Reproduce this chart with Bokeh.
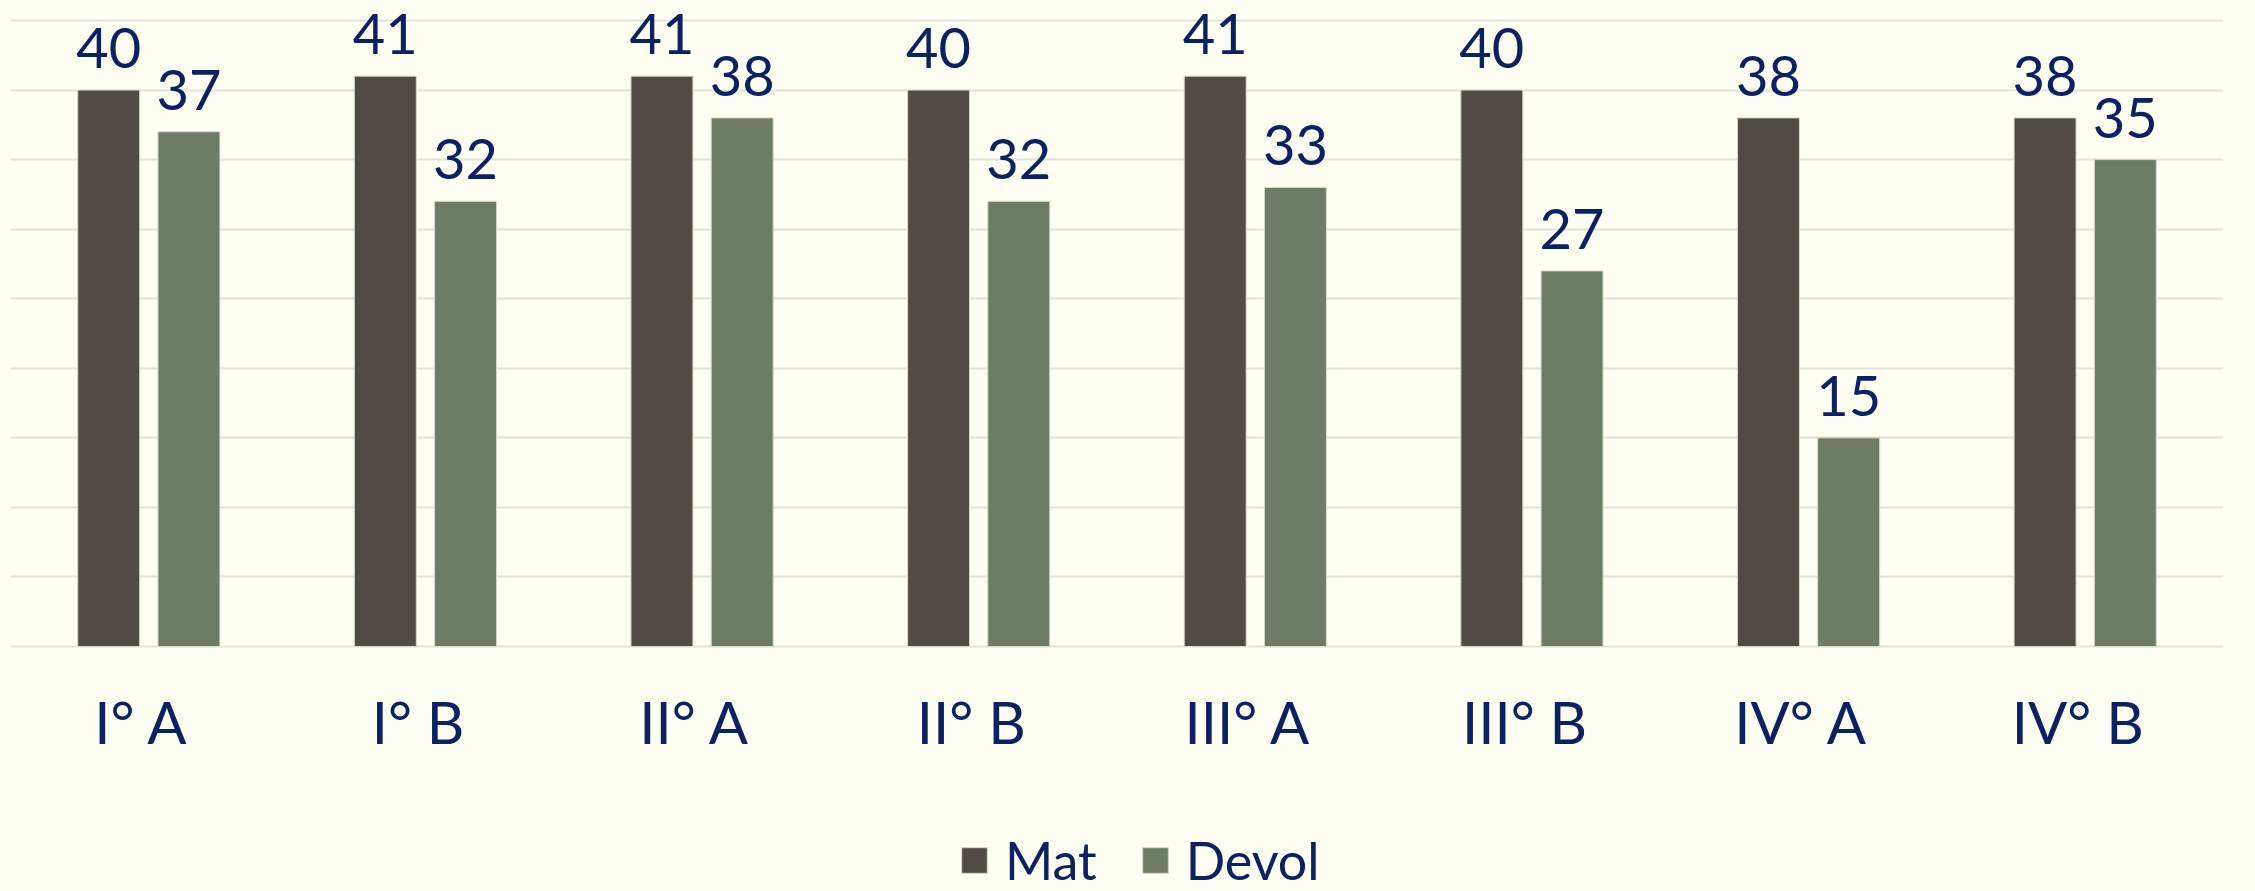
from bokeh.plotting import figure
from bokeh.models import ColumnDataSource, FactorRange, Range1d, LabelSet, Legend, LegendItem, FixedTicker
from bokeh.transform import dodge
from bokeh.embed import file_html
from bokeh.resources import INLINE
from bokeh.core.properties import value

categories = ["I°  A", "I°  B", "II°  A", "II°  B", "III°  A", "III°  B", "IV°  A", "IV°  B"]
mat = [40, 41, 41, 40, 41, 40, 38, 38]
devol = [37, 32, 38, 32, 33, 27, 15, 35]
series = ["Mat", "Devol"]
y_ticks = [0, 5, 10, 15, 20, 25, 30, 35, 40, 45]

BG = "#FEFEF2"
TXT = "#0B2160"
C_MAT = "#524A44"
C_DEV = "#6E7C66"
FONT = "Lato"

W, H = 2255, 891
PX_PER_UNIT = 626 / 45.0
BASE_Y = 646

src = ColumnDataSource(dict(
    cat=categories, mat=mat, devol=devol, zero=[0] * len(categories),
    mat_txt=[str(v) for v in mat], devol_txt=[str(v) for v in devol],
))

p = figure(
    x_range=FactorRange(factors=categories, range_padding=0),
    y_range=Range1d(-(H - BASE_Y) / PX_PER_UNIT, BASE_Y / PX_PER_UNIT),
    width=W, height=H,
    output_backend="svg", toolbar_location=None,
    background_fill_color=BG, border_fill_color=BG,
    min_border_left=10, min_border_right=32, min_border_top=0, min_border_bottom=0,
    outline_line_color=None,
)

r_mat = p.vbar(x=dodge("cat", -0.145, range=p.x_range), top="mat", bottom=0, width=0.224, source=src,
               fill_color=C_MAT, line_color="#D8D8CC", line_width=1)
r_dev = p.vbar(x=dodge("cat", 0.145, range=p.x_range), top="devol", bottom=0, width=0.224, source=src,
               fill_color=C_DEV, line_color="#D8D8CC", line_width=1)

for fld, txt, off in (("mat", "mat_txt", -0.145), ("devol", "devol_txt", 0.145)):
    p.add_layout(LabelSet(x=dodge("cat", off, range=p.x_range), y=fld, text=txt, source=src,
                          y_offset=22, text_align="center", text_baseline="alphabetic",
                          text_font=value(FONT), text_font_size="56px", text_color=TXT))

# category labels under the baseline
p.add_layout(LabelSet(x="cat", y="zero", text="cat", source=src,
                      y_offset=-97, text_align="center", text_baseline="alphabetic",
                      text_font=value(FONT), text_font_size="58px", text_color=TXT))

p.xaxis.visible = False
p.yaxis.visible = False
p.xgrid.grid_line_color = None
p.ygrid.ticker = FixedTicker(ticks=y_ticks)
p.ygrid.grid_line_color = "#E2E2DA"
p.ygrid.grid_line_width = 2

legend = Legend(
    items=[LegendItem(label=series[0], renderers=[r_mat]), LegendItem(label=series[1], renderers=[r_dev])],
    orientation="horizontal", location=(948, 0),
    glyph_width=32, glyph_height=32, label_standoff=15, spacing=42,
    padding=0, margin=0, border_line_color=None, background_fill_alpha=0,
    label_text_font=FONT, label_text_font_size="52px", label_text_color=TXT,
)
p.add_layout(legend, "center")

open("out.html", "w").write(file_html(p, INLINE))
